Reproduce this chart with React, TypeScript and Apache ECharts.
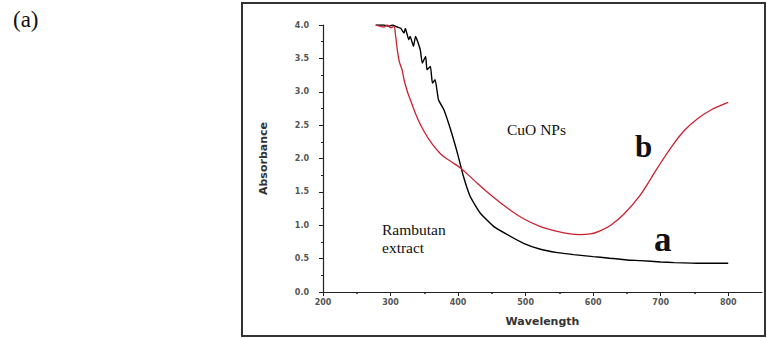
import React, { useEffect, useRef } from "react";
import * as echarts from "echarts";

const xTicks = [200, 300, 400, 500, 600, 700, 800];
const yTicks = [0, 0.5, 1, 1.5, 2, 2.5, 3, 3.5, 4];

// Curve a: Rambutan extract (black)
const aWave = [278, 290, 297, 303, 310, 315, 320, 322, 327, 329, 334, 337, 344, 347, 352, 354, 359, 362, 366, 371, 379, 389, 399, 408, 418, 433, 453, 473, 497, 522, 547, 571, 600, 621, 650, 670, 700, 720, 760, 800];
const aAbs = [4.0, 4.0, 3.98, 4.0, 3.97, 3.95, 3.88, 3.95, 3.78, 3.83, 3.68, 3.83, 3.63, 3.43, 3.53, 3.33, 3.38, 3.13, 3.18, 2.88, 2.73, 2.43, 2.08, 1.73, 1.43, 1.18, 0.98, 0.86, 0.73, 0.64, 0.59, 0.56, 0.53, 0.51, 0.48, 0.47, 0.45, 0.44, 0.43, 0.43];

// Curve b: CuO NPs (red)
const bWave = [278, 290, 295, 300, 305, 307, 310, 313, 317, 320, 325, 330, 340, 350, 360, 375, 390, 404, 423, 448, 473, 497, 522, 547, 566, 580, 596, 611, 626, 645, 670, 695, 715, 735, 755, 775, 790, 800];
const bAbs = [4.0, 3.97, 4.0, 3.96, 3.98, 3.88, 3.63, 3.45, 3.33, 3.18, 3.0, 2.86, 2.6, 2.4, 2.24, 2.06, 1.95, 1.855, 1.68, 1.456, 1.257, 1.097, 0.98, 0.908, 0.87, 0.86, 0.87, 0.92, 1.0, 1.16, 1.456, 1.855, 2.16, 2.42, 2.6, 2.73, 2.8, 2.84];

const toPairs = (xs: number[], ys: number[]) => xs.map((x, i) => [x, ys[i]]);

const serif = "'Liberation Serif', 'Times New Roman', serif";

export default function App() {
  const ref = useRef<HTMLDivElement>(null);
  useEffect(() => {
    if (!ref.current) return;
    const chart = echarts.init(ref.current, null, { renderer: "svg" });
    const labelStyle = {
      fontSize: 8,
      fontWeight: "bold" as const,
      color: "#555",
      fontFamily: "DejaVu Sans",
    };
    const nameStyle = { fontSize: 11, fontWeight: "bold" as const, color: "#333", fontFamily: "DejaVu Sans" };
    chart.setOption({
      animation: false,
      backgroundColor: "#fff",
      grid: { left: 323, top: 25, right: 5, bottom: 46 },
      xAxis: {
        type: "value",
        min: 200,
        max: 850,
        interval: 100,
        name: "Wavelength",
        nameLocation: "middle",
        nameGap: 24,
        nameTextStyle: nameStyle,
        axisLine: { show: true, lineStyle: { color: "#222", width: 1.2 } },
        axisTick: { show: true, length: 4, customValues: xTicks, lineStyle: { color: "#222" } },
        minorTick: { show: true, splitNumber: 2, length: 2, lineStyle: { color: "#222", width: 1.5 } },
        axisLabel: { ...labelStyle, margin: 6, customValues: xTicks, formatter: (v: number) => String(v) },
        splitLine: { show: false },
      },
      yAxis: {
        type: "value",
        min: 0,
        max: 4,
        interval: 0.5,
        name: "Absorbance",
        nameLocation: "middle",
        nameGap: 54,
        nameTextStyle: nameStyle,
        axisLine: { show: true, lineStyle: { color: "#222", width: 1.2 } },
        axisTick: { show: true, length: 4, customValues: yTicks, lineStyle: { color: "#222" } },
        minorTick: { show: true, splitNumber: 2, length: 2, lineStyle: { color: "#222" } },
        axisLabel: { ...labelStyle, margin: 14, customValues: yTicks, formatter: (v: number) => v.toFixed(1) },
        splitLine: { show: false },
      },
      series: [
        {
          name: "Rambutan extract",
          type: "line",
          data: toPairs(aWave, aAbs),
          showSymbol: false,
          smooth: 0.15,
          lineStyle: { color: "#000", width: 1.4 },
        },
        {
          name: "CuO NPs",
          type: "line",
          data: toPairs(bWave, bAbs),
          showSymbol: false,
          smooth: 0.4,
          lineStyle: { color: "#cc2030", width: 1.3 },
        },
      ],
      graphic: [
        {
          type: "rect",
          shape: { x: 242, y: 3, width: 523, height: 333 },
          style: { fill: "none", stroke: "#333", lineWidth: 2 },
          silent: true,
        },
        {
          type: "text",
          x: 13,
          y: 31,
          style: { text: "(a)", fontSize: 23, fontFamily: serif, fill: "#111", textVerticalAlign: "bottom" },
        },
        {
          type: "text",
          x: 507,
          y: 137,
          style: { text: "CuO NPs", fontSize: 15.5, fontFamily: serif, fill: "#111", textVerticalAlign: "bottom" },
        },
        {
          type: "text",
          x: 382,
          y: 238,
          style: { text: "Rambutan\nextract", fontSize: 15.5, lineHeight: 18, fontFamily: serif, fill: "#111", textVerticalAlign: "middle" },
        },
        {
          type: "text",
          x: 635,
          y: 162,
          style: { text: "b", fontSize: 31, fontWeight: "bold", fontFamily: serif, fill: "#111", textVerticalAlign: "bottom" },
        },
        {
          type: "text",
          x: 654,
          y: 257,
          style: { text: "a", fontSize: 35, fontWeight: "bold", fontFamily: serif, fill: "#111", textVerticalAlign: "bottom" },
        },
      ],
    });
    return () => chart.dispose();
  }, []);
  return (
    <div
      ref={ref}
      style={{ position: "absolute", left: 0, top: 0, width: 767, height: 338 }}
    />
  );
}
